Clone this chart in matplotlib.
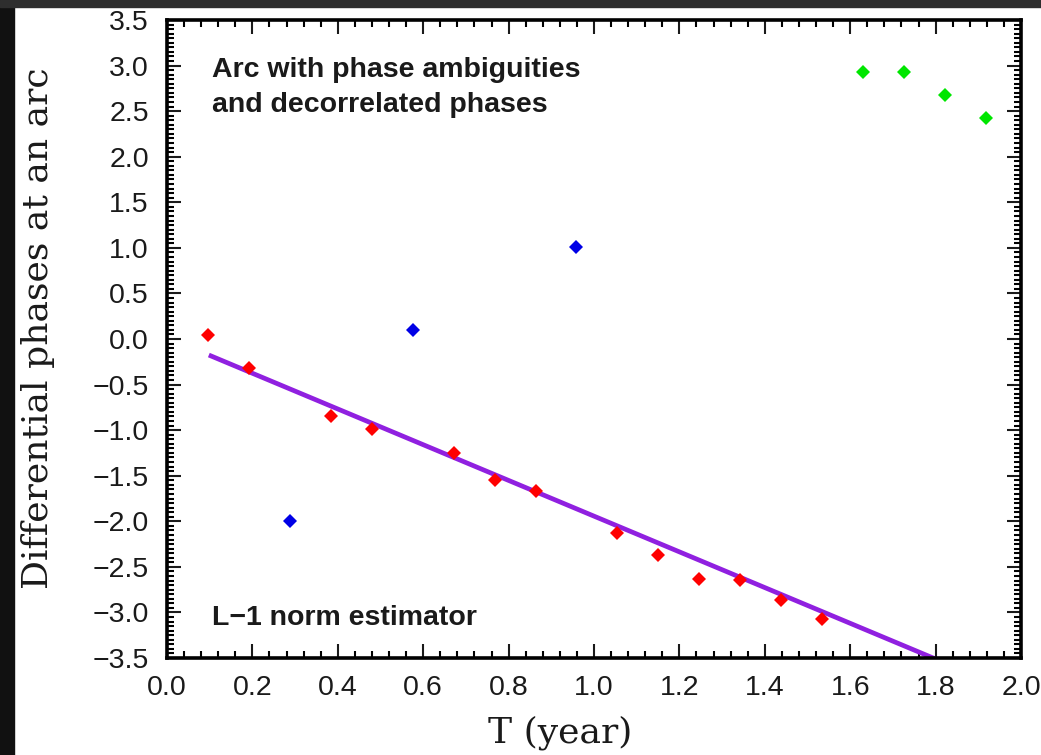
import numpy as np
import matplotlib
matplotlib.use('Agg')
import matplotlib.pyplot as plt
from matplotlib.patches import Rectangle
from matplotlib.ticker import MultipleLocator, FuncFormatter

# data
red_T = [0.096, 0.192, 0.384, 0.480, 0.672, 0.767, 0.863, 1.055, 1.151, 1.247, 1.343, 1.438, 1.534]
red_phase = [0.04, -0.32, -0.85, -0.99, -1.25, -1.55, -1.67, -2.13, -2.37, -2.63, -2.64, -2.86, -3.07]
blue_T = [0.288, 0.576, 0.959]
blue_phase = [-2.0, 0.10, 1.01]
green_T = [1.630, 1.726, 1.822, 1.918]
green_phase = [2.93, 2.93, 2.68, 2.43]
fit_T = [0.098, 1.83]
fit_phase = [-0.176, -3.57]

x_ticks = [0.0, 0.2, 0.4, 0.6, 0.8, 1.0, 1.2, 1.4, 1.6, 1.8, 2.0]
y_ticks = [-3.5, -3.0, -2.5, -2.0, -1.5, -1.0, -0.5, 0.0, 0.5, 1.0, 1.5, 2.0, 2.5, 3.0, 3.5]

plt.rcParams['font.family'] = ['Liberation Sans', 'DejaVu Sans']

fig = plt.figure(figsize=(10.41, 7.55), dpi=100, facecolor='white')
W, H = 1041, 755
ax = fig.add_axes([167 / W, 97 / H, 854 / W, 638 / H])

# dark frame bands at the left and top of the screenshot
fig.patches.append(Rectangle((0, 0), 14 / W, 1, transform=fig.transFigure,
                             color='#111111', zorder=-1))
fig.patches.append(Rectangle((0, 1 - 7 / H), 1, 7 / H, transform=fig.transFigure,
                             color='#2e2e2e', zorder=-1))

ax.plot(fit_T, fit_phase, color='#9020e0', linewidth=3.4, solid_capstyle='butt', zorder=2)
ax.plot(red_T, red_phase, 'D', color='#ff0000', markersize=6.8, markeredgewidth=0, zorder=3)
ax.plot(blue_T, blue_phase, 'D', color='#0000e6', markersize=6.8, markeredgewidth=0, zorder=3)
ax.plot(green_T, green_phase, 'D', color='#00e600', markersize=6.8, markeredgewidth=0, zorder=3)

fmt = FuncFormatter(lambda v, pos: ('%.1f' % v).replace('-', '\u2212'))
ax.set_xlim(0, 2.0)
ax.set_ylim(-3.5, 3.5)
ax.set_xticks(x_ticks)
ax.set_yticks(y_ticks)
ax.xaxis.set_major_formatter(fmt)
ax.yaxis.set_major_formatter(fmt)
ax.xaxis.set_minor_locator(MultipleLocator(0.04))
ax.yaxis.set_minor_locator(MultipleLocator(0.05))
ax.tick_params(which='both', direction='in', top=True, right=True, width=1.5)
ax.tick_params(which='major', length=10)
ax.tick_params(which='minor', length=5)
ax.tick_params(axis='x', which='major', labelsize=20.5, pad=12, colors='#1a1a1a')
ax.tick_params(axis='y', which='major', labelsize=20.5, pad=13, colors='#1a1a1a')
for sp in ax.spines.values():
    sp.set_linewidth(2.6)

ax.set_xlabel('T (year)', family='DejaVu Serif', fontsize=26, color='#1a1a1a')
ax.xaxis.set_label_coords(0.46, -0.09)
ax.set_ylabel('Differential phases at an arc', family='DejaVu Serif', fontsize=26,
              color='#1a1a1a')
ax.yaxis.set_label_coords(-0.131, 0.517)

ax.text(0.0527, 0.911, 'Arc with phase ambiguities', transform=ax.transAxes,
        fontsize=20.5, fontweight='bold', va='baseline', ha='left', color='#1a1a1a')
ax.text(0.0527, 0.856, 'and decorrelated phases', transform=ax.transAxes,
        fontsize=20.5, fontweight='bold', va='baseline', ha='left', color='#1a1a1a')
ax.text(0.0527, 0.0517, 'L\u22121 norm estimator', transform=ax.transAxes,
        fontsize=20.5, fontweight='bold', va='baseline', ha='left', color='#1a1a1a')

fig.savefig('out.png', dpi=100, facecolor='white')
